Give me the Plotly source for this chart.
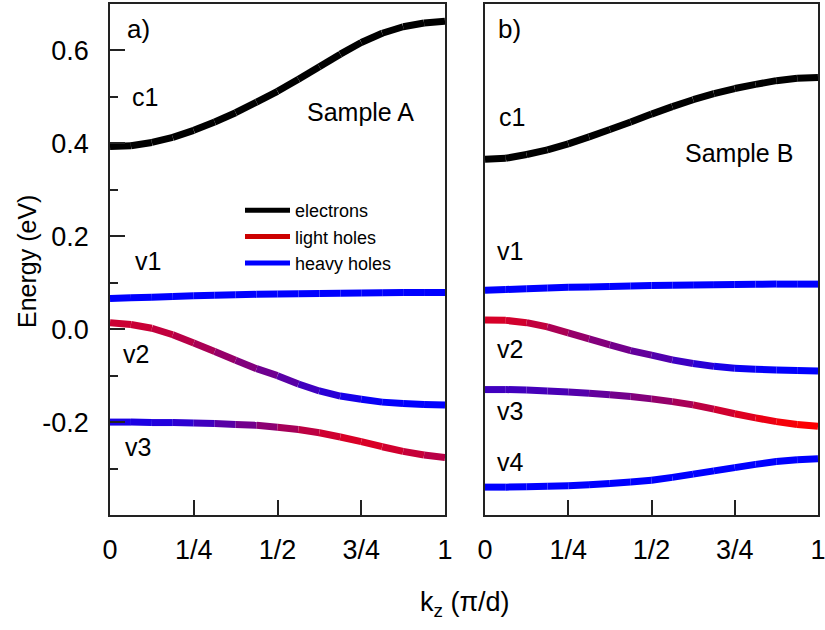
import plotly.graph_objects as go

W, H = 825, 630

# ---------------- data ----------------
kz = [i / 16 for i in range(17)]
kz_ticks = [0, 0.25, 0.5, 0.75, 1.0]
kz_ticklabels = ["0", "1/4", "1/2", "3/4", "1"]
energy_ticks = [-0.2, 0.0, 0.2, 0.4, 0.6]
energy_ticklabels = ["-0.2", "0.0", "0.2", "0.4", "0.6"]
energy_minor = [-0.3, -0.1, 0.1, 0.3, 0.5]

# Sample A (eV)
a_c1 = [0.393, 0.395, 0.402, 0.413, 0.428, 0.446, 0.466, 0.489, 0.512,
        0.538, 0.565, 0.592, 0.617, 0.637, 0.651, 0.659, 0.663]
a_v1 = [0.066, 0.0675, 0.069, 0.0705, 0.072, 0.073, 0.074, 0.075, 0.076,
        0.0765, 0.077, 0.0775, 0.078, 0.0785, 0.079, 0.079, 0.079]
a_v2 = [0.014, 0.010, 0.002, -0.012, -0.030, -0.048, -0.067, -0.085, -0.100,
        -0.118, -0.133, -0.144, -0.151, -0.157, -0.160, -0.162, -0.163]
a_v3 = [-0.200, -0.200, -0.201, -0.201, -0.202, -0.203, -0.205, -0.207, -0.211,
        -0.216, -0.223, -0.232, -0.242, -0.253, -0.263, -0.271, -0.276]
# light-hole character (0 = heavy hole, 1 = light hole)
a_v1_lh = [0] * 17
a_v2_lh = [0.80, 0.80, 0.78, 0.74, 0.70, 0.63, 0.55, 0.47, 0.40,
           0.30, 0.20, 0.12, 0.05, 0.02, 0.0, 0.0, 0.0]
a_v3_lh = [0.10, 0.10, 0.12, 0.15, 0.20, 0.30, 0.40, 0.50, 0.60,
           0.70, 0.78, 0.84, 0.86, 0.84, 0.80, 0.75, 0.70]

# Sample B (eV)
b_c1 = [0.366, 0.368, 0.376, 0.386, 0.399, 0.414, 0.430, 0.446, 0.463,
        0.479, 0.494, 0.507, 0.518, 0.527, 0.535, 0.540, 0.542]
b_v1 = [0.084, 0.0855, 0.087, 0.0885, 0.090, 0.091, 0.092, 0.093, 0.094,
        0.0945, 0.095, 0.0955, 0.096, 0.0965, 0.097, 0.097, 0.097]
b_v2 = [0.020, 0.019, 0.014, 0.005, -0.008, -0.021, -0.034, -0.046, -0.056,
        -0.066, -0.074, -0.080, -0.084, -0.086, -0.088, -0.089, -0.090]
b_v3 = [-0.130, -0.130, -0.131, -0.133, -0.135, -0.138, -0.141, -0.145, -0.150,
        -0.156, -0.163, -0.172, -0.182, -0.191, -0.199, -0.205, -0.209]
b_v4 = [-0.340, -0.340, -0.339, -0.338, -0.337, -0.335, -0.332, -0.329, -0.325,
        -0.319, -0.312, -0.305, -0.298, -0.291, -0.285, -0.281, -0.279]
b_v1_lh = [0] * 17
b_v2_lh = [0.85, 0.84, 0.80, 0.72, 0.62, 0.55, 0.48, 0.42, 0.36,
           0.28, 0.20, 0.12, 0.06, 0.03, 0.01, 0.0, 0.0]
b_v3_lh = [0.25, 0.25, 0.26, 0.28, 0.30, 0.36, 0.42, 0.48, 0.55,
           0.62, 0.70, 0.78, 0.85, 0.90, 0.95, 0.98, 1.0]
b_v4_lh = [0] * 17

legend_names = ["electrons", "light holes", "heavy holes"]

# ---------------- figure ----------------
FONT = "Liberation Sans, Arial, sans-serif"
LW = 7


def mix(w):
    return f"rgb({round(255 * w)},0,{round(255 * (1 - w))})"


fig = go.Figure()


def add_band(y, lh, xa, ya):
    for i in range(len(kz) - 1):
        color = "black" if lh is None else mix((lh[i] + lh[i + 1]) / 2)
        fig.add_trace(go.Scatter(
            x=kz[i:i + 2], y=y[i:i + 2], mode="lines",
            line=dict(color=color, width=LW),
            showlegend=False, hoverinfo="skip", xaxis=xa, yaxis=ya))


add_band(a_c1, None, "x", "y")
add_band(a_v1, a_v1_lh, "x", "y")
add_band(a_v2, a_v2_lh, "x", "y")
add_band(a_v3, a_v3_lh, "x", "y")

add_band(b_c1, None, "x2", "y2")
add_band(b_v1, b_v1_lh, "x2", "y2")
add_band(b_v2, b_v2_lh, "x2", "y2")
add_band(b_v3, b_v3_lh, "x2", "y2")
add_band(b_v4, b_v4_lh, "x2", "y2")

legend_colors = ["black", "rgb(204,0,0)", "rgb(0,0,255)"]
for name, col in zip(legend_names, legend_colors):
    fig.add_trace(go.Scatter(x=[None], y=[None], mode="lines", name=name,
                             line=dict(color=col, width=5), xaxis="x", yaxis="y"))


def px(x):
    return x / W


def py(y):
    return 1 - y / H


frame = dict(showline=True, linecolor="#222", linewidth=1.5, mirror=True,
             showgrid=False, zeroline=False, automargin=False)

xcommon = dict(range=[0, 1], tickvals=kz_ticks, ticktext=kz_ticklabels,
               ticks="inside", ticklen=15, tickwidth=1.5, tickcolor="#222",
               tickfont=dict(family=FONT, size=27, color="black"),
               ticklabelstandoff=10, ticklabeloverflow="allow", **frame)
ycommon = dict(range=[-0.4, 0.7], **frame)

fig.update_layout(
    width=W, height=H,
    margin=dict(l=0, r=0, t=0, b=0, autoexpand=False),
    paper_bgcolor="white", plot_bgcolor="white",
    xaxis=dict(domain=[px(110), px(445)], anchor="y", **xcommon),
    xaxis2=dict(domain=[px(485), px(818)], anchor="y2", **xcommon),
    yaxis=dict(domain=[py(515), py(4)], anchor="x",
               tickvals=energy_ticks, ticktext=energy_ticklabels,
               ticks="inside", ticklen=15, tickwidth=1.5, tickcolor="#222",
               minor=dict(tickvals=energy_minor, ticks="inside", ticklen=8,
                          tickwidth=1.5, tickcolor="#222", showgrid=False),
               tickfont=dict(family=FONT, size=27, color="black"),
               ticklabelstandoff=14, ticklabeloverflow="allow", **ycommon),
    yaxis2=dict(domain=[py(515), py(4)], anchor="x2", showticklabels=False,
                ticks="", **ycommon),
    showlegend=True,
    legend=dict(x=px(240), y=py(192), xanchor="left", yanchor="top",
                bgcolor="rgba(0,0,0,0)", borderwidth=0,
                font=dict(family=FONT, size=18, color="black"),
                itemwidth=45, tracegroupgap=0),
    font=dict(family=FONT, color="black"),
)

ann = []


def label(text, x, y, size=25, xanchor="left", angle=0):
    ann.append(dict(text=text, x=px(x), y=py(y), xref="paper", yref="paper",
                    xanchor=xanchor, yanchor="middle", showarrow=False,
                    textangle=angle,
                    font=dict(family=FONT, size=size, color="black")))


# panel a
label("a)", 125, 29, 26)
label("c1", 130, 97)
label("Sample A", 305, 112)
label("v1", 133, 261)
label("v2", 121, 354)
label("v3", 123, 447)
# panel b
label("b)", 496, 29, 26)
label("c1", 497, 117)
label("Sample B", 683, 153)
label("v1", 495, 251)
label("v2", 495, 349)
label("v3", 495, 411)
label("v4", 495, 462)
# axis titles
label("Energy (eV)", 27, 262, 25, xanchor="center", angle=-90)
label("k<sub>z</sub> (π/d)", 465, 604, 27, xanchor="center")

fig.update_layout(annotations=ann)

fig.write_html("out.html")
